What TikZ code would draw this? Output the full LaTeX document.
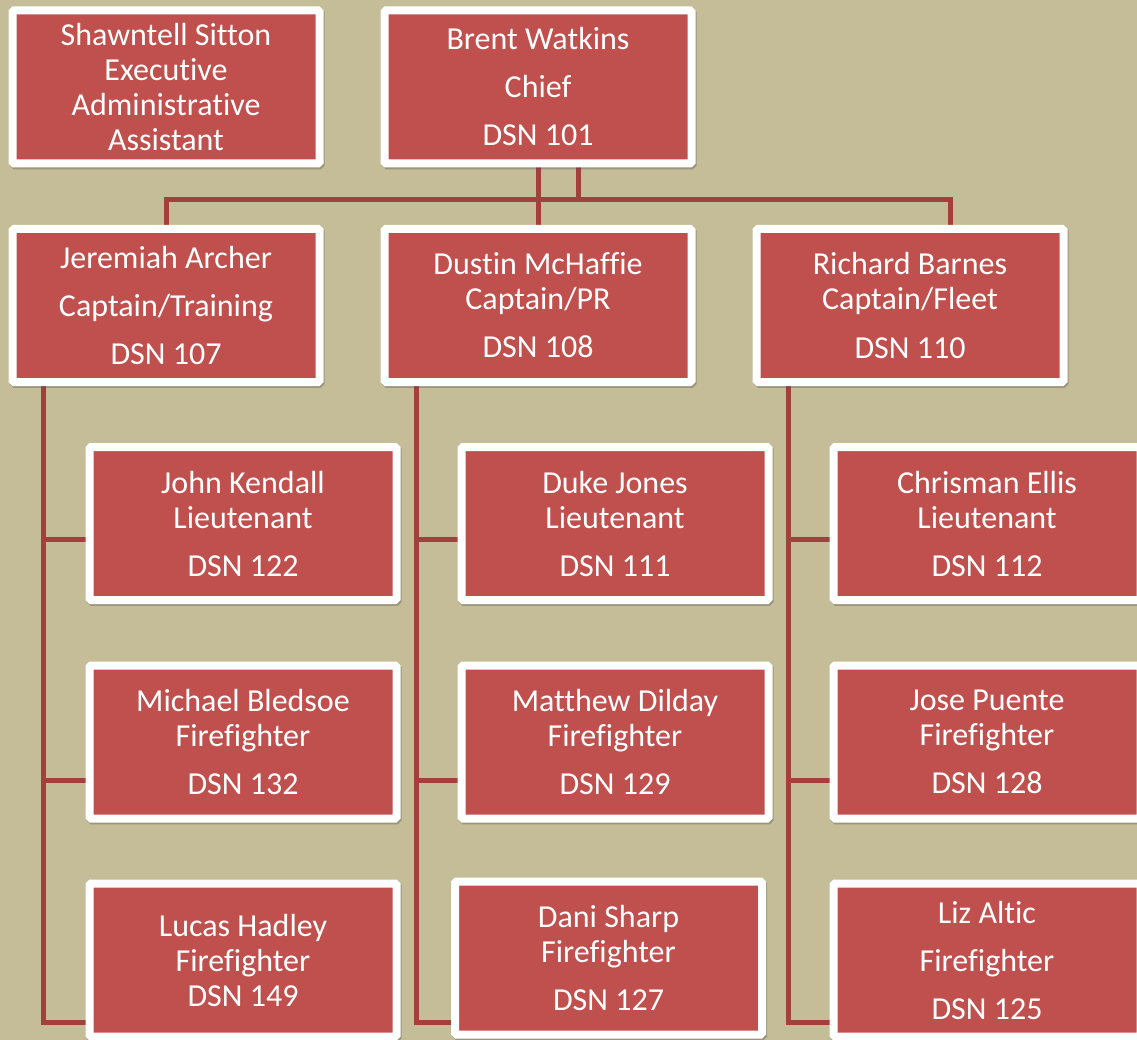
\documentclass[tikz,border=0pt]{standalone}
\usepackage{fontspec}
\setmainfont{Carlito}[Ligatures=NoCommon]
\usetikzlibrary{backgrounds}
\definecolor{bgtan}{HTML}{C4BD97}
\definecolor{boxred}{HTML}{C0504D}
\definecolor{linered}{HTML}{A33F3D}
\tikzset{
  orgbox/.style={draw=white, line width=8pt, fill=boxred, text=white,
    minimum width=307pt, minimum height=153pt, inner sep=0pt, align=center,
    font=\fontsize{32}{35}\selectfont, rounded corners=1.5pt,
    preaction={draw=black!70, draw opacity=0.35, line width=8pt,
      transform canvas={shift={(1.2pt,-1.8pt)}}}},
  wire/.style={draw=linered, line width=5pt}
}
\begin{document}
\begin{tikzpicture}[x=1pt,y=-1pt]
\useasboundingbox (0,0) rectangle (1137,1040);
\begin{pgfonlayer}{background}
\fill[bgtan] (0,0) rectangle (1137,1040);
\end{pgfonlayer}

\node[orgbox] (shawntell) at (166,87) {Shawntell Sitton\\Executive\\Administrative\\Assistant};
\node[orgbox] (brent) at (538,87) {Brent Watkins\\[13pt]Chief\\[13pt]DSN 101};
\node[orgbox] (jeremiah) at (166,305.5) {Jeremiah Archer\\[13pt]Captain/Training\\[13pt]DSN 107};
\node[orgbox] (dustin) at (538,305.5) {Dustin McHaffie\\Captain/PR\\[13pt]DSN 108};
\node[orgbox] (richard) at (910,305.5) {Richard Barnes\\Captain/Fleet\\[13pt]DSN 110};
\node[orgbox] (john) at (243,523.5) {John Kendall\\Lieutenant\\[13pt]DSN 122};
\node[orgbox] (michael) at (243,742) {Michael Bledsoe\\Firefighter\\[13pt]DSN 132};
\node[orgbox] (lucas) at (243,960) {Lucas Hadley\\Firefighter\\DSN 149};
\node[orgbox] (duke) at (615,523.5) {Duke Jones\\Lieutenant\\[13pt]DSN 111};
\node[orgbox] (matthew) at (615,742) {Matthew Dilday\\Firefighter\\[13pt]DSN 129};
\node[orgbox] (dani) at (608.5,958) {Dani Sharp\\Firefighter\\[13pt]DSN 127};
\node[orgbox] (chrisman) at (987,523.5) {Chrisman Ellis\\Lieutenant\\[13pt]DSN 112};
\node[orgbox] (jose) at (987,742) {Jose Puente\\Firefighter\\[13pt]DSN 128};
\node[orgbox] (liz) at (987,960) {Liz Altic\\[13pt]Firefighter\\[13pt]DSN 125};

\coordinate (b2) at (578,200);
\coordinate (busL) at (166,200);
\coordinate (busR) at (950,200);
\coordinate (sL) at (43,1022);
\coordinate (sM) at (416,1022);
\coordinate (sR) at (788,1022);
\coordinate (r1) at (0,539);
\coordinate (r2) at (0,780);

\begin{pgfonlayer}{background}
\draw[wire] (brent.south) -- (dustin.north);
\draw[wire] (brent.south -| b2) -- (b2);
\draw[wire] (jeremiah.north) -- (busL) -- (busR) -- (richard.north -| busR);
% left spine
\draw[wire] (jeremiah.south -| sL) -- (sL) -- (lucas.west |- sL);
\draw[wire] (sL |- r1) -- (john.west |- r1);
\draw[wire] (sL |- r2) -- (michael.west |- r2);
% middle spine
\draw[wire] (dustin.south -| sM) -- (sM) -- (dani.west |- sM);
\draw[wire] (sM |- r1) -- (duke.west |- r1);
\draw[wire] (sM |- r2) -- (matthew.west |- r2);
% right spine
\draw[wire] (richard.south -| sR) -- (sR) -- (liz.west |- sR);
\draw[wire] (sR |- r1) -- (chrisman.west |- r1);
\draw[wire] (sR |- r2) -- (jose.west |- r2);
\end{pgfonlayer}
\end{tikzpicture}
\end{document}
